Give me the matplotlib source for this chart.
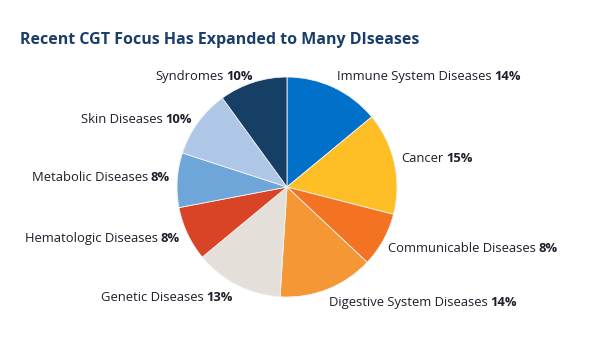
import matplotlib.pyplot as plt

# share of CGT focus by disease area, clockwise from 12 o'clock
diseases = ['Immune System Diseases', 'Cancer', 'Communicable Diseases',
            'Digestive System Diseases', 'Genetic Diseases', 'Hematologic Diseases',
            'Metabolic Diseases', 'Skin Diseases', 'Syndromes']
shares = [14, 15, 8, 14, 13, 8, 8, 10, 10]
colors = ['#0070C8', '#FDBE26', '#F47322', '#F69736', '#E4E0D9',
          '#D94427', '#6EA6DA', '#AEC7E6', '#163F66']

# label anchors in figure pixels (x, baseline y from top) and which side the text grows to
label_pos = [(337, 80, 'left'), (401, 162, 'left'), (388, 252, 'left'),
             (329, 306, 'left'), (233, 301, 'right'), (180, 242, 'right'),
             (170, 181, 'right'), (192, 123, 'right'), (253, 80, 'right')]

W, H = 612, 344
fig = plt.figure(figsize=(W / 100, H / 100), dpi=100)
ax = fig.add_axes([0, 0, 1, 1])

ax.pie(shares, colors=colors, startangle=90, counterclock=False,
       center=(287, H - 187), radius=110, frame=True,
       wedgeprops=dict(edgecolor='#f4f4f4', linewidth=0.6))
ax.set_xlim(0, W)
ax.set_ylim(0, H)
ax.set_aspect('equal')
ax.axis('off')

font = 'Open Sans'
txtcol = '#1e1e2a'
fs = 9.4
gap = 3
renderer = fig.canvas.get_renderer()
for name, val, (x, y, side) in zip(diseases, shares, label_pos):
    pct = f'{val}%'
    if side == 'left':
        t = ax.text(x, H - y, name, ha='left', va='baseline', fontsize=fs,
                    family=font, color=txtcol)
        w = t.get_window_extent(renderer=renderer).width
        ax.text(x + w + gap, H - y, pct, ha='left', va='baseline', fontsize=fs,
                family=font, fontweight='bold', color=txtcol)
    else:
        t = ax.text(x, H - y, pct, ha='right', va='baseline', fontsize=fs,
                    family=font, fontweight='bold', color=txtcol)
        w = t.get_window_extent(renderer=renderer).width
        ax.text(x - w - gap, H - y, name, ha='right', va='baseline', fontsize=fs,
                family=font, color=txtcol)

fig.text(20 / W, 1 - 40 / H, 'Recent CGT Focus Has Expanded to Many DIseases',
         ha='left', va='center', fontsize=11.5, fontweight='bold',
         family=font, color='#1B3D6A')

fig.savefig('out.png', dpi=100)
